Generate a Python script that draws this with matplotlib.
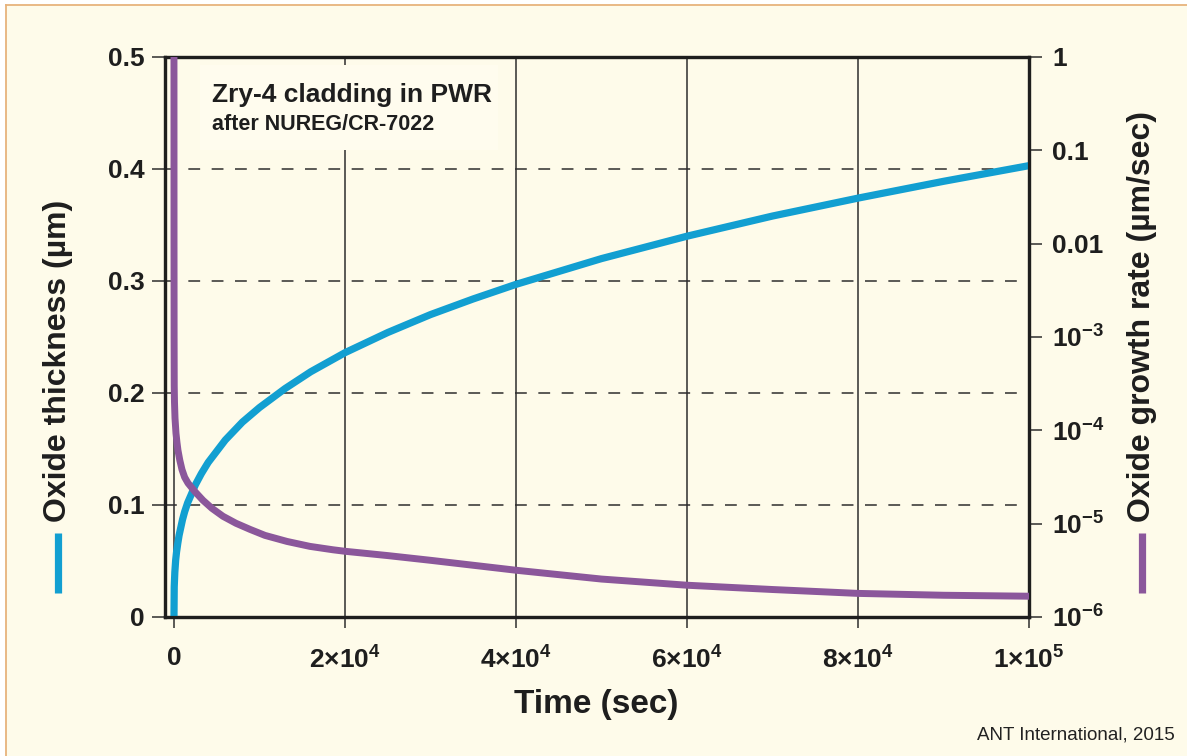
import matplotlib
matplotlib.use("Agg")
import matplotlib.pyplot as plt
from matplotlib import font_manager
from matplotlib.lines import Line2D
from matplotlib.patches import Rectangle
from matplotlib.ticker import NullLocator, FixedLocator

# ---- data -------------------------------------------------------------
time_thick = [0, 30, 100, 200, 300, 450, 600, 800, 1000, 1250, 1600, 2000,
              2500, 3200, 4000, 5000, 6000, 8000, 10000, 13000, 16000, 20000,
              25000, 30000, 35000, 40000, 50000, 60000, 70000, 80000, 90000,
              100000]
oxide_thickness = [0, 0.027, 0.040, 0.051, 0.058, 0.066, 0.073, 0.080, 0.087,
                   0.094, 0.102, 0.109, 0.118, 0.128, 0.138, 0.148, 0.158,
                   0.174, 0.187, 0.204, 0.219, 0.236, 0.254, 0.270, 0.284,
                   0.297, 0.320, 0.340, 0.358, 0.374, 0.389, 0.403]

time_rate = [0, 5, 15, 30, 60, 120, 234, 350, 468, 680, 936, 1250, 1640,
             2460, 3390, 4440, 5730, 7250, 8890, 10640, 13220, 15900, 18600,
             20000, 25000, 30000, 40000, 50000, 60000, 70000, 80000, 90000,
             100000]
growth_rate = [1.0, 1e-2, 1.0e-3, 3.0e-4, 2.0e-4, 1.35e-4, 9.3e-5, 7.4e-5,
               6.1e-5, 4.79e-5, 3.8e-5, 3.14e-5, 2.72e-5, 2.2e-5, 1.78e-5,
               1.46e-5, 1.20e-5, 1.01e-5, 8.69e-6, 7.49e-6, 6.45e-6, 5.71e-6,
               5.25e-6, 5.06e-6, 4.55e-6, 4.05e-6, 3.17e-6, 2.55e-6, 2.19e-6,
               1.97e-6, 1.79e-6, 1.71e-6, 1.67e-6]

x_ticks = [0, 20000, 40000, 60000, 80000, 100000]
x_ticklabels = [r"$0$", r"$2{\times}10^{4}$", r"$4{\times}10^{4}$",
                r"$6{\times}10^{4}$", r"$8{\times}10^{4}$", r"$1{\times}10^{5}$"]
left_ticks = [0, 0.1, 0.2, 0.3, 0.4, 0.5]
left_ticklabels = ["0", "0.1", "0.2", "0.3", "0.4", "0.5"]
right_ticks = [1e-6, 1e-5, 1e-4, 1e-3, 1e-2, 1e-1, 1]
right_ticklabels = [r"$10^{-6}$", r"$10^{-5}$", r"$10^{-4}$", r"$10^{-3}$",
                    "0.01", "0.1", "1"]

# ---- style ------------------------------------------------------------
BLUE = "#129FD1"
PURPLE = "#8B579B"
BG = "#FEFBEA"
BORDER = "#E7B37C"
INK = "#1E1E1E"
GRID = "#2E2E2E"


def pick_font():
    for name in ["Liberation Sans Narrow", "Liberation Sans", "DejaVu Sans"]:
        try:
            font_manager.findfont(font_manager.FontProperties(family=name),
                                  fallback_to_default=False)
            return name
        except Exception:
            continue
    return "DejaVu Sans"


FONT = pick_font()
plt.rcParams["font.family"] = [FONT, "DejaVu Sans"]
plt.rcParams["font.weight"] = "bold"
plt.rcParams["mathtext.fontset"] = "custom"
plt.rcParams["mathtext.rm"] = FONT + ":bold"
plt.rcParams["mathtext.bf"] = FONT + ":bold"
plt.rcParams["mathtext.it"] = FONT + ":bold"
plt.rcParams["mathtext.sf"] = FONT + ":bold"
plt.rcParams["mathtext.default"] = "bf"
plt.rcParams["lines.scale_dashes"] = False

W, H = 1187, 756
fig = plt.figure(figsize=(W / 100, H / 100), dpi=100, facecolor="white")

# cream panel with a border along the left and top edges
fig.patches.append(Rectangle((6 / W, 0), 1 - 6 / W, (H - 5) / H,
                             transform=fig.transFigure, facecolor=BG,
                             edgecolor="none", zorder=-2))
fig.lines.append(Line2D([6 / W, 6 / W], [0, (H - 5) / H],
                        transform=fig.transFigure, color=BORDER, lw=1.3,
                        zorder=-1))
fig.lines.append(Line2D([6 / W, 1], [(H - 5) / H, (H - 5) / H],
                        transform=fig.transFigure, color=BORDER, lw=1.3,
                        zorder=-1))

ax = fig.add_axes([165 / W, (H - 617) / H, (1029 - 165) / W, (617 - 57) / H])
ax.set_facecolor(BG)
ax.set_xlim(-1050, 100000)
ax.set_ylim(0, 0.5)

for s in ax.spines.values():
    s.set_linewidth(2.3)
    s.set_color(INK)

# grid: solid verticals, dashed horizontals
for xv in x_ticks[:-1]:
    ax.axvline(xv, color=GRID, lw=1.1, zorder=1)
for yv in left_ticks[1:-1]:
    ax.axhline(yv, color=GRID, lw=1.1, ls=(0, (8.5, 8.3)), zorder=1)

# annotation panel
ax.add_patch(Rectangle((0.04, 0.834), 0.345, 0.152, transform=ax.transAxes,
                       facecolor="#FFFCEE", edgecolor="none", zorder=1.5))
ax.text(0.0545, 0.920, "Zry-4 cladding in PWR", transform=ax.transAxes,
        fontsize=19, color=INK, ha="left", va="baseline", zorder=5)
ax.text(0.0545, 0.870, "after NUREG/CR-7022", transform=ax.transAxes,
        fontsize=15.5, color=INK, ha="left", va="baseline", zorder=5)

ax.plot(time_thick, oxide_thickness, color=BLUE, lw=5.2,
        solid_capstyle="butt", solid_joinstyle="round", zorder=4)

ax.xaxis.set_major_locator(FixedLocator(x_ticks))
ax.set_xticklabels(x_ticklabels)
ax.yaxis.set_major_locator(FixedLocator(left_ticks))
ax.set_yticklabels(left_ticklabels)
ax.tick_params(axis="x", direction="out", length=8, width=1.1, pad=13,
               labelsize=19, color=GRID, labelcolor=INK)
ax.tick_params(axis="y", direction="out", length=9.5, width=1.1, pad=5,
               labelsize=19, color=GRID, labelcolor=INK)

ax2 = ax.twinx()
ax2.set_yscale("log")
ax2.set_ylim(1e-6, 1)
ax2.plot(time_rate, growth_rate, color=PURPLE, lw=5.0,
         solid_capstyle="butt", solid_joinstyle="round", zorder=5)
ax2.yaxis.set_major_locator(FixedLocator(right_ticks))
ax2.yaxis.set_minor_locator(NullLocator())
ax2.set_yticklabels(right_ticklabels)
ax2.tick_params(axis="y", direction="out", length=9.5, width=1.1, pad=7,
                labelsize=19, color=GRID, labelcolor=INK)
for s in ax2.spines.values():
    s.set_linewidth(2.3)
    s.set_color(INK)

# axis titles with coloured series keys
fig.text(58 / W, 1 - 361 / H, "Oxide thickness (µm)", rotation=90,
         fontsize=23, color=INK, ha="center", va="center")
fig.lines.append(Line2D([58 / W, 58 / W], [1 - 593 / H, 1 - 533 / H],
                        transform=fig.transFigure, color=BLUE, lw=5.2,
                        solid_capstyle="butt"))
fig.text(1142 / W, 1 - 316 / H, "Oxide growth rate (µm/sec)", rotation=90,
         fontsize=23, color=INK, ha="center", va="center")
fig.lines.append(Line2D([1142 / W, 1142 / W], [1 - 593 / H, 1 - 533 / H],
                        transform=fig.transFigure, color=PURPLE, lw=5.2,
                        solid_capstyle="butt"))
fig.text(596 / W, 1 - 705 / H, "Time (sec)", fontsize=24, color=INK,
         ha="center", va="center")

fig.text(1175 / W, 1 - 740 / H, "ANT International, 2015", fontsize=13.5,
         fontweight="normal", color="#222222", ha="right", va="baseline")

fig.savefig("out.png", dpi=100, facecolor="white")
